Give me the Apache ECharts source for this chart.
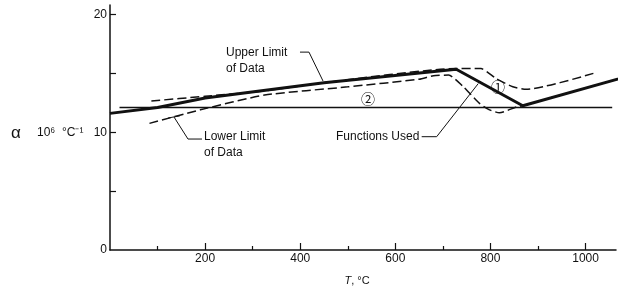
<!DOCTYPE html>
<html>
<head>
<meta charset="utf-8">
<script src="https://cdn.jsdelivr.net/npm/echarts@6/dist/echarts.min.js"></script>
<style>
  html, body { margin: 0; padding: 0; background: #fff; }
  #chart { width: 643px; height: 291px; }
</style>
</head>
<body>
<div id="chart"></div>
<script>
// temperature (deg C) and expansion coefficient (10^6 / deg C)
const funcT = [0, 100, 200, 450, 728, 868, 1120];
const funcA = [11.6, 12.1, 12.9, 14.2, 15.35, 12.25, 15.1];

const upperT = [87, 200, 325, 450, 728, 780, 812, 847, 875, 1022];
const upperA = [12.65, 13.05, 13.5, 14.2, 15.4, 15.4, 14.55, 13.86, 13.64, 15.06];

const lowerT = [83, 190, 325, 500, 650, 680, 712, 742, 777, 798, 819, 855, 868];
const lowerA = [10.75, 11.9, 13.15, 13.85, 14.5, 14.8, 14.85, 13.9, 12.45, 11.9, 11.65, 12.15, 12.25];

const constT = [20, 1056];
const constA = [12.1, 12.1];

const xMajorTicks = [200, 400, 600, 800, 1000];
const xMinorTicks = [100, 300, 500, 700, 900];
const yTicks = [5, 10, 15, 20];
const yLabels = [0, 10, 20];

// annotation anchors, in data units
const upperLeader = [[399.5, 16.8], [418.4, 16.8], [447.9, 14.35]];
const lowerLeader = [[134.6, 11.29], [164, 9.42], [193.4, 9.42]];
const lowerBar = [[122, 11.2], [147.2, 11.4]];
const funcLeader = [[655.4, 9.62], [686.9, 9.62], [774.4, 14.13]];

const ink = '#111';
const font = '"Liberation Sans", Arial, sans-serif';

function pairs(xs, ys) {
    return xs.map((x, i) => [x, ys[i]]);
}

let chart = echarts.init(document.getElementById('chart'));
chart.setOption({
    animation: false,
    backgroundColor: '#fff',
    grid: { left: 110, right: 27, top: 5, bottom: 41 },
    xAxis: [{
        type: 'value',
        min: 0,
        max: 1064,
        position: 'bottom',
        splitLine: { show: false },
        axisLine: { lineStyle: { color: ink, width: 1.5 } },
        axisTick: { inside: true, length: 7, customValues: xMajorTicks, lineStyle: { color: ink, width: 1.2 } },
        axisLabel: {
            customValues: xMajorTicks, margin: 3, color: ink, fontSize: 12, fontFamily: font,
            formatter: (v) => String(v)
        }
    }, {
        type: 'value',
        min: 0,
        max: 1064,
        position: 'top',
        offset: -245,
        splitLine: { show: false },
        axisLine: { show: false, onZero: false },
        axisTick: { inside: false, length: 4, customValues: xMinorTicks, lineStyle: { color: ink, width: 1.2 } },
        axisLabel: { show: false }
    }],
    yAxis: {
        type: 'value',
        min: 0,
        max: 20.8,
        splitLine: { show: false },
        axisLine: { lineStyle: { color: ink, width: 1.5 } },
        axisTick: { inside: true, length: 6, customValues: yTicks, lineStyle: { color: ink, width: 1.2 } },
        axisLabel: { customValues: yLabels, margin: 3, color: ink, fontSize: 12, fontFamily: font }
    },
    series: [{
        type: 'line',
        data: pairs(constT, constA),
        symbol: 'none',
        lineStyle: { color: ink, width: 1.4 }
    }, {
        type: 'line',
        data: pairs(upperT, upperA),
        symbol: 'none',
        smooth: 0.2,
        lineStyle: { color: ink, width: 1.5, type: [9, 4] }
    }, {
        type: 'line',
        data: pairs(lowerT, lowerA),
        symbol: 'none',
        smooth: 0.2,
        lineStyle: { color: ink, width: 1.5, type: [9, 4] }
    }, {
        type: 'line',
        data: pairs(funcT, funcA),
        symbol: 'none',
        clip: false,
        lineStyle: { color: ink, width: 3 }
    }]
});

function px(p) {
    return chart.convertToPixel({ seriesIndex: 0 }, p);
}

function leader(points) {
    return {
        type: 'polyline',
        shape: { points: points.map(px) },
        style: { stroke: ink, lineWidth: 1, fill: null }
    };
}

function label(p, text, size, extra) {
    let q = px(p);
    return {
        type: 'text',
        x: q[0],
        y: q[1],
        style: Object.assign({ text: text, fill: ink, fontSize: size, fontFamily: font }, extra || {})
    };
}

function plain(x, y, text, size) {
    return {
        type: 'text', x: x, y: y,
        style: { text: text, fill: ink, fontSize: size, fontFamily: font, verticalAlign: 'middle' }
    };
}

chart.setOption({
    graphic: [
        leader(upperLeader),
        leader(lowerLeader),
        leader(lowerBar),
        leader(funcLeader),
        label([243.9, 17.4], 'Upper Limit\nof Data', 12, { lineHeight: 16, verticalAlign: 'top' }),
        label([197.6, 10.27], 'Lower Limit\nof Data', 12, { lineHeight: 16, verticalAlign: 'top' }),
        label([475.2, 9.59], 'Functions Used', 12, { verticalAlign: 'middle' }),
        label([815.8, 13.84], '①', 14, { align: 'center', verticalAlign: 'middle', fontFamily: '"Noto Sans CJK SC", sans-serif' }),
        label([542.5, 12.82], '②', 14, { align: 'center', verticalAlign: 'middle', fontFamily: '"Noto Sans CJK SC", sans-serif' }),
        plain(11, 133, 'α', 17),
        plain(37, 133, '10⁶', 12),
        plain(62, 133, '°C⁻¹', 12),
        {
            type: 'text', x: 357, y: 281,
            style: {
                text: '{i|T}, °C', fill: ink, fontSize: 11, fontFamily: font, align: 'center', verticalAlign: 'middle',
                rich: { i: { fontStyle: 'italic', fontSize: 11, fontFamily: font, fill: ink } }
            }
        }
    ]
});
</script>
</body>
</html>
